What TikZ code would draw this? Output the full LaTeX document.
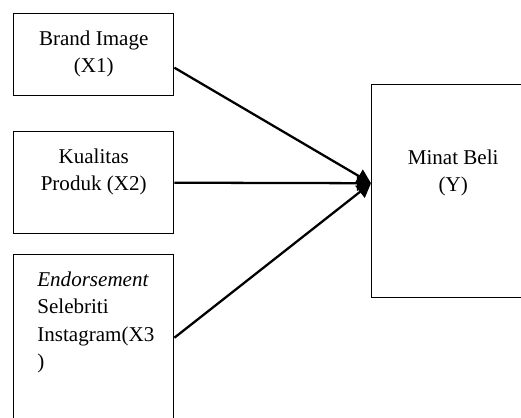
\documentclass[tikz,border=0pt]{standalone}
\usepackage{fontspec}
\setmainfont{Liberation Serif}
\usepackage{tikz}
\usetikzlibrary{arrows.meta, positioning, calc}
\newdimen\pxl
\pxl=0.57pt

\begin{document}
\begin{tikzpicture}[x=0.57pt, y=-0.57pt, >={Triangle[length=8pt, width=8.5pt]},
        box/.style={draw, line width=0.8pt, anchor=north west, minimum width=160\pxl, inner sep=0pt},
        lbl/.style={inner sep=0pt, font=\fontsize{12}{15.4}\selectfont}]
        \useasboundingbox (0, 0) rectangle (521, 417);
        \clip (0, 0) rectangle (521, 417);

        % variable boxes
        \node[box, minimum height=82\pxl] (x1) at (13, 13) {};
        \node[box, minimum height=102\pxl] (x2) at (13, 131) {};
        \node[box, minimum height=166\pxl] (x3) at (13, 254) {};
        \node[box, minimum width=163\pxl, minimum height=213\pxl] (y) at (371, 84) {};

        \node[lbl, align=center, below=18\pxl of x1.north] (t1) {Brand Image\\(X1)};
        \node[lbl, align=center, below=18\pxl of x2.north] (t2) {Kualitas\\Produk (X2)};
        \node[lbl, align=left, anchor=north west] (t3) at ($(x3.north west)+(24, 18)$)
        {\textit{Endorsement}\\Selebriti\\Instagram(X3\\)};
        \node[lbl, align=center, below=66\pxl of y.north] (ty) {Minat Beli\\(Y)};

        \coordinate (hub) at ([yshift=8\pxl]y.west);
        \draw[->, line width=1.3pt] ([yshift=-13\pxl]x1.east) -- (hub);
        \draw[->, line width=1.3pt] (x2.east) -- (hub);
        \draw[->, line width=1.3pt] (x3.east) -- (hub);
        %(hub) -- (y.west);
\end{tikzpicture}
\end{document}
